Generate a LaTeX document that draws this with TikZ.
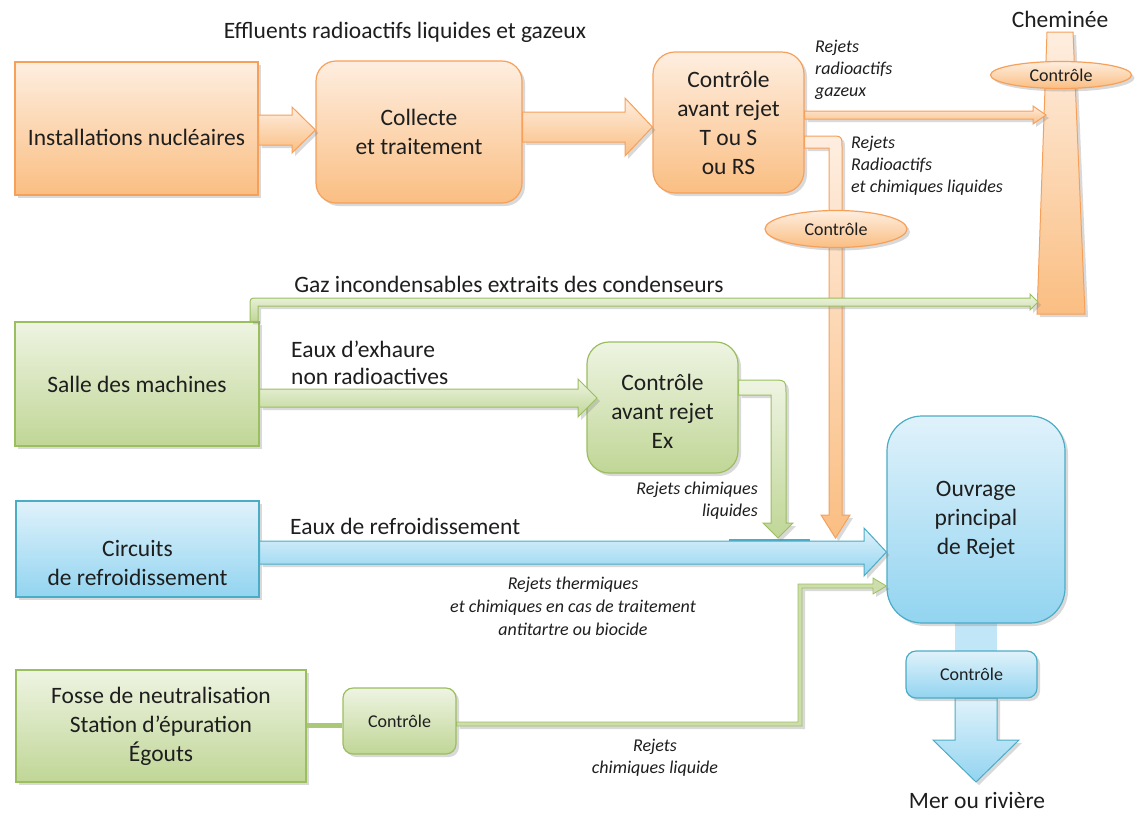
\documentclass[tikz,border=0pt]{standalone}
\usepackage{fontspec}
\setmainfont{Carlito}
\usetikzlibrary{shadows,shapes.geometric}
\definecolor{orT}{RGB}{254,238,224}
\definecolor{orB}{RGB}{250,190,130}
\definecolor{orD}{RGB}{246,160,90}
\definecolor{grT}{RGB}{238,244,226}
\definecolor{grB}{RGB}{192,214,150}
\definecolor{grD}{RGB}{155,190,95}
\definecolor{blT}{RGB}{224,242,251}
\definecolor{blB}{RGB}{146,212,240}
\definecolor{blD}{RGB}{75,172,198}
\definecolor{txt}{RGB}{30,30,30}
\begin{document}
\begin{tikzpicture}[x=1pt,y=-1pt,
  font=\fontsize{23.5}{29}\selectfont, text=txt,
  shd/.style={drop shadow={opacity=0.3,shadow xshift=3pt,shadow yshift=-3pt}},
  obox/.style={draw=orD,line width=1.2pt,top color=orT,bottom color=orB,shd,align=center,inner sep=0pt},
  gbox/.style={draw=grD,line width=1.2pt,top color=grT,bottom color=grB,shd,align=center,inner sep=0pt},
  bbox/.style={draw=blD,line width=1.2pt,top color=blT,bottom color=blB,shd,align=center,inner sep=0pt},
  oarr/.style={draw=orD,line width=1pt,top color=orT,bottom color=orB,shd},
  garr/.style={draw=grD,line width=1pt,top color=grT,bottom color=grB,shd},
  barr/.style={draw=blD,line width=1pt,top color=blT,bottom color=blB,shd},
  small/.style={font=\fontsize{18}{22}\selectfont},
  lab/.style={font=\itshape\fontsize{18}{22}\selectfont,inner sep=0pt},
  plain/.style={inner sep=0pt,align=center}
]
\useasboundingbox (0,0) rectangle (1135,812);

% ---------- boxes ----------
\node[obox,minimum width=243pt,minimum height=133pt] (inst) at (136.5,128.5) {};
\node[plain] (instt) at (136.5,137) {Installations nucléaires};
\node[obox,rounded corners=20pt,minimum width=206pt,minimum height=142pt] (coll) at (419,132) {Collecte\\et traitement};
\node[obox,rounded corners=22pt,minimum width=151pt,minimum height=141pt] (ctrl) at (728.5,122.5) {Contrôle\\avant rejet\\T ou S\\ou RS};

\node[gbox,minimum width=244pt,minimum height=124pt] (salle) at (137,384) {Salle des machines};
\node[gbox,rounded corners=22pt,minimum width=151pt,minimum height=131pt] (ctrlex) at (662.5,407.5) {};
\node[plain] (ctrlext) at (662.5,411.5) {Contrôle\\avant rejet\\Ex};

\node[bbox,minimum width=243pt,minimum height=96pt] (circ) at (137.5,549) {};
\node[plain] (circt) at (137.5,562.5) {Circuits\\de refroidissement};

\node[gbox,minimum width=290pt,minimum height=112pt] (fosse) at (161,726) {Fosse de neutralisation\\Station d’épuration\\Égouts};
\node[gbox,small,rounded corners=10pt,minimum width=113pt,minimum height=66pt] (ctrlf) at (399.5,721) {Contrôle};

% outlet shafts (behind)
\fill[blT!60!blB] (955,620) rectangle (997,653);
\path[barr] (955,698) -- (997,698) -- (997,740) -- (1019,740) -- (976,782) -- (933,740) -- (955,740) -- cycle;
\node[bbox,rounded corners=35pt,minimum width=178pt,minimum height=207pt] (ouvr) at (976,519.5) {Ouvrage\\principal\\de Rejet};
\node[bbox,small,rounded corners=10pt,minimum width=131pt,minimum height=47pt] (ctrlo) at (971.5,674.5) {Contrôle};

% ---------- chimney ----------
\path[oarr] (1047,32) -- (1073,32) -- (1085,314) -- (1037,314) -- cycle;
\coordinate (chim) at (1061,200);
\node[obox,small,ellipse,minimum width=141pt,minimum height=27pt] (ell2) at (1061,75) {Contrôle};

% ---------- orange arrows ----------
\path[oarr] (inst.east |- 0,115) -- (292,115) -- (292,107) -- (coll.west |- 0,130) -- (292,153) -- (292,145) -- (inst.east |- 0,145) -- cycle;
\path[oarr] (coll.east |- 0,112) -- (625,112) -- (625,98) -- (ctrl.west |- 0,127) -- (625,156) -- (625,142) -- (coll.east |- 0,142) -- cycle;
\path[oarr] (ctrl.east |- 0,111) -- (1033,111) -- (1033,106) -- (1046,115) -- (1033,124) -- (1033,119) -- (ctrl.east |- 0,119) -- cycle;

% blue cooling arrow
\path[barr] (circ.east |- 0,541) -- (864,541) -- (864,528) -- (ouvr.west |- 0,552) -- (864,576) -- (864,564) -- (circ.east |- 0,564) -- cycle;
\draw[blD,line width=2.5pt] (729,540) -- (810,540);

% liquid orange elbow
\path[oarr] (ctrl.east |- 0,136) -- (830,136) .. controls (842,136) .. (842,148) -- (842,515) -- (850,515) -- (835.5,538) -- (821,515) -- (829,515) -- (829,148) -- (ctrl.east |- 0,148) -- cycle;
\node[obox,small,ellipse,minimum width=142pt,minimum height=37pt] (ell1) at (836,229) {Contrôle};

% ---------- green arrows ----------
\path[garr] (salle.north -| 250,0) -- (250,306) .. controls (250,298) .. (258,298) -- (1030,298) -- (1030,294) -- (1038,302) -- (1030,310) -- (1030,306) -- (258,306) -- (salle.north -| 258,0) -- cycle;
\path[garr] (salle.east |- 0,389) -- (578,389) -- (578,379) -- (597,398) -- (578,417) -- (578,407) -- (salle.east |- 0,407) -- cycle;
\path[garr] (ctrlex.east |- 0,380) -- (771,380) .. controls (786,380) .. (786,395) -- (786,523) -- (793,523) -- (778,538) -- (763,523) -- (771,523) -- (771,395) -- (ctrlex.east |- 0,395) -- cycle;
\fill[grD!85] (fosse.east |- 0,722.5) rectangle (ctrlf.west |- 0,727.5);
\path[draw=grD,line width=0.8pt,fill=grB!80,shd] (ctrlf.east |- 0,722) -- (798,722) -- (798,584) -- (873,584) -- (873,578) -- (ouvr.west |- 0,586) -- (873,594) -- (873,588) -- (802,588) -- (802,726) -- (ctrlf.east |- 0,726) -- cycle;

% ---------- labels ----------
\node[plain] (t1) at (405,32) {Effluents radioactifs liquides et gazeux};
\node[plain] (t2) at (1060,19) {Cheminée};
\node[lab,anchor=west,align=left] (t3) at (815,70) {Rejets\\radioactifs\\gazeux};
\node[lab,anchor=west,align=left] (t4) at (851,166) {Rejets\\Radioactifs\\et chimiques liquides};
\node[plain] (t5) at (509,284) {Gaz incondensables extraits des condenseurs};
\node[plain,anchor=west,align=left,font=\fontsize{23.5}{27}\selectfont] (t6) at (291,363) {Eaux d’exhaure\\non radioactives};
\node[lab,anchor=east,align=right] (t7) at (758,501) {Rejets chimiques\\liquides};
\node[plain,anchor=west] (t8) at (290,526) {Eaux de refroidissement};
\node[lab,align=center,font=\itshape\fontsize{18}{23}\selectfont] (t9) at (573,606) {Rejets thermiques\\et chimiques en cas de traitement\\antitartre ou biocide};
\node[lab,align=center] (t10) at (655,758) {Rejets\\chimiques liquide};
\node[plain] (t11) at (977,800) {Mer ou rivière};
\end{tikzpicture}
\end{document}
